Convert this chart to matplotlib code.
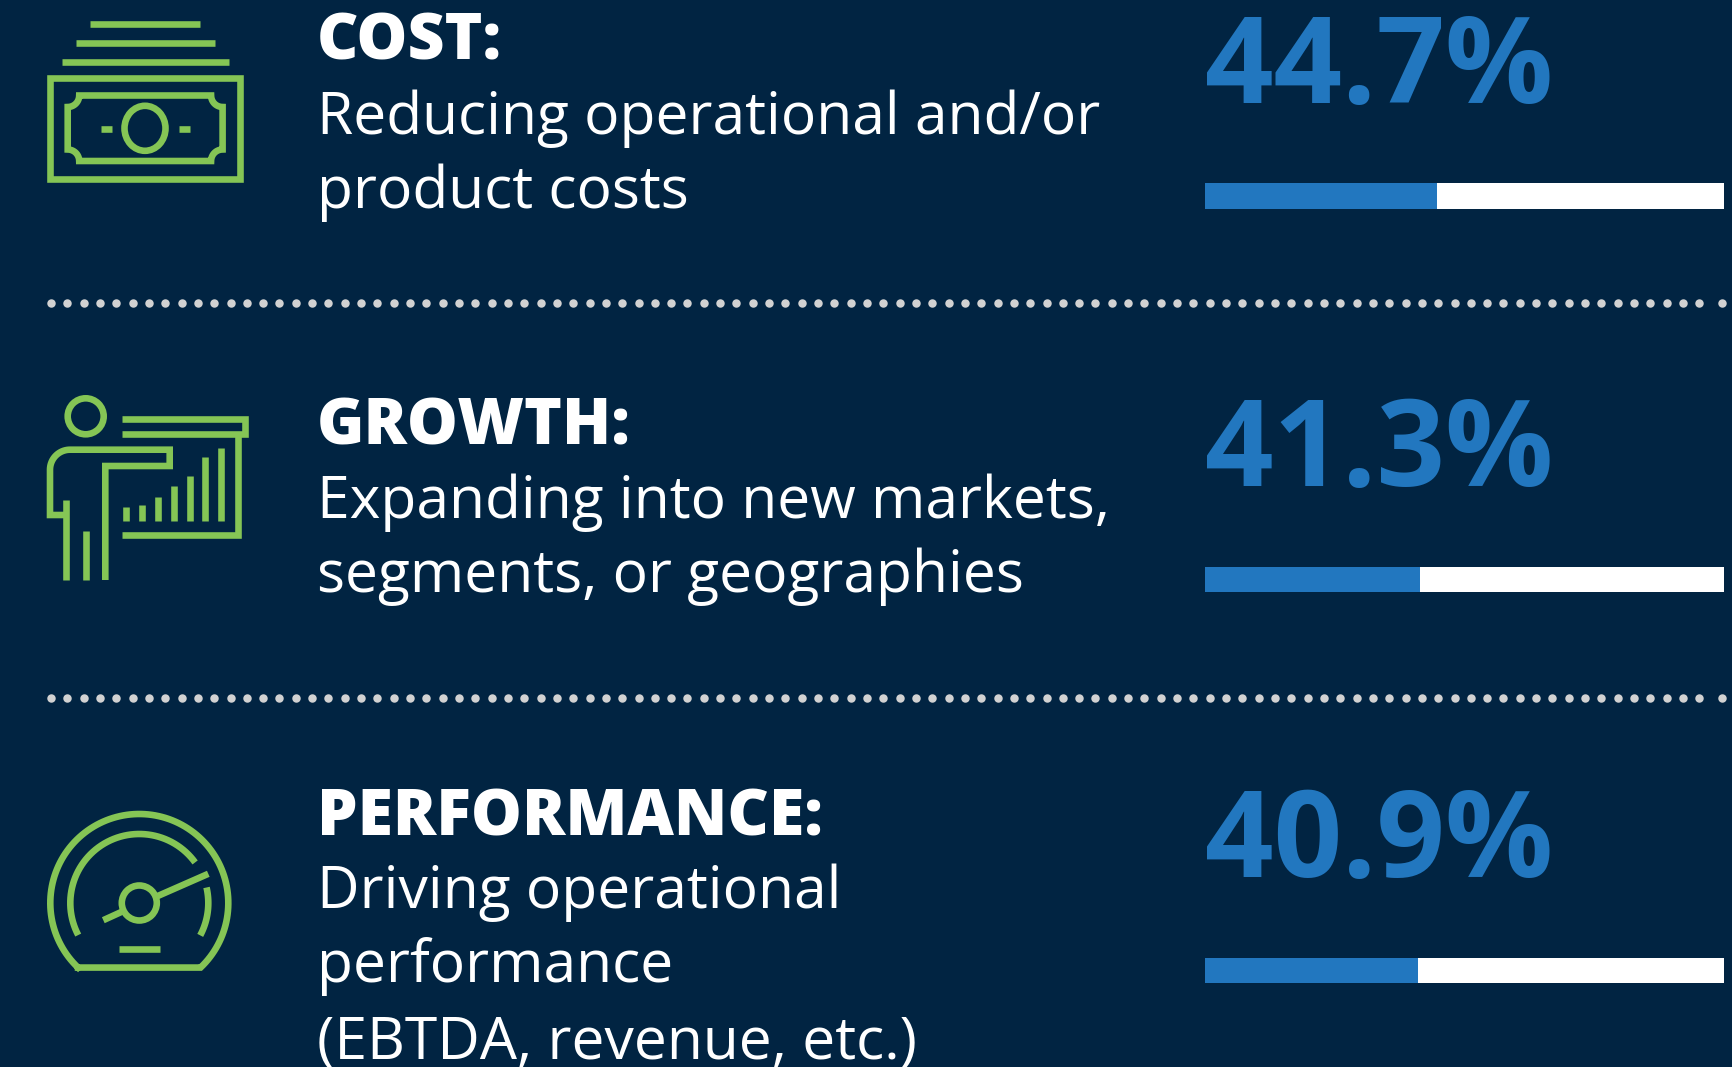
import matplotlib
matplotlib.use("Agg")
import matplotlib.pyplot as plt
import matplotlib.patches as patches
import numpy as np

# Data
headings = ["COST:", "GROWTH:", "PERFORMANCE:"]
descriptions = [
    ["Reducing operational and/or", "product costs"],
    ["Expanding into new markets,", "segments, or geographies"],
    ["Driving operational", "performance", "(EBTDA, revenue, etc.)"],
]
values = [44.7, 41.3, 40.9]

BG = "#012442"
GREEN = "#85C555"
BLUE = "#2277BF"
DOT = "#D2D2D2"
W, H = 1733, 1067
LW = 6.6 * 72 / 100  # icon stroke, px to pt

fig = plt.figure(figsize=(W / 100, H / 100), dpi=100, facecolor=BG)
ax = fig.add_axes([0, 0, 1, 1])
ax.set_xlim(0, W)
ax.set_ylim(H, 0)
ax.axis("off")


def stroke(xs, ys, cap="butt"):
    ax.plot(xs, ys, color=GREEN, lw=LW, solid_capstyle=cap, solid_joinstyle="miter")


def arc(cx, cy, r, a0, a1, n=60):
    # angles in degrees, y pointing up on screen
    t = np.radians(np.linspace(a0, a1, n))
    return cx + r * np.cos(t), cy - r * np.sin(t)


def ring(cx, cy, w, h):
    ax.add_patch(patches.Ellipse((cx, cy), w, h, fill=False, ec=GREEN, lw=LW))


def draw_money():
    stroke([90, 200], [24.3, 24.3])
    stroke([76, 215], [43, 43])
    stroke([62, 229], [61.7, 61.7])
    ax.add_patch(patches.Rectangle((50.3, 77.6), 190.2, 101.2, fill=False, ec=GREEN,
                                   lw=LW, joinstyle="miter"))
    # note with notched corners
    l, r, t, b, n = 67.7, 222.6, 95.5, 161, 11.5
    corners = [(r, t, 180, 270), (r, b, 90, 180), (l, b, 0, 90), (l, t, 270, 360)]
    pts = [arc(cx, cy, n, a0, a1, 20) for cx, cy, a0, a1 in corners]
    px = np.concatenate([p[0] for p in pts])
    py = np.concatenate([p[1] for p in pts])
    ax.add_patch(patches.Polygon(np.c_[px, py], closed=True, fill=False, ec=GREEN, lw=LW,
                                 joinstyle="miter"))
    ring(145, 128.3, 41, 45)
    stroke([101, 112], [128.5, 128.5])
    stroke([179, 190], [128.5, 128.5])


def draw_presenter():
    ring(85.7, 416.3, 36, 36)
    stroke([122, 245.4, 245.4, 122], [419, 419, 434.3, 434.3])
    stroke([237.7, 237.7, 122], [434.3, 535, 535])
    # arm and body
    cx, cy = arc(70, 469.7, 20, 180, 90, 20)
    stroke(np.r_[66.3, 50, cx, 169.7, 169.7, 105.3, 105.3],
           np.r_[515, 515, cy, 449.7, 466, 466, 580])
    stroke([66.3, 66.3], [500, 580])
    stroke([85.7, 85.7], [530.7, 580])
    tops = [410, 405, 382, 349, 318, 262, 234]
    for i, top in enumerate(tops):
        x = 126 + i * 15.9
        stroke([x, x], [521, 370 + top / 3])


def draw_gauge():
    c = (139.3, 903)
    x, y = arc(c[0], c[1], 89, 226.5, -46.5, 120)
    ax.plot(np.r_[x, x[0]], np.r_[y, y[0]], color=GREEN, lw=LW, solid_joinstyle="miter")
    x, y = arc(c[0], c[1], 69, 207.7, 36)
    stroke(x, y)
    x, y = arc(c[0], c[1], 69, 13, -28)
    stroke(x, y)
    ring(c[0], c[1], 35, 35)
    stroke([208.3, 157.3], [873.8, 896.2])
    stroke([121.7, 103.3], [911.8, 920.2])
    stroke([119.3, 160], [948.5, 948.5])


draw_money()
draw_presenter()
draw_gauge()

# dotted separators
for y in [303, 698]:
    xs = np.r_[np.arange(51, 1701, 16.32), 1722]
    ax.scatter(xs, np.full_like(xs, y), s=37, color=DOT, linewidths=0, zorder=2)

# text
FONT = "Open Sans"
head_base = [59.5, 444.5, 835.5]
line_base = [[133.5, 208.5], [517.5, 591.5], [907.5, 982.5, 1058.5]]
num_base = [103, 486, 877]
for i, name in enumerate(headings):
    ax.text(317, head_base[i], name, family=FONT, fontweight="extra bold", fontsize=46.2,
            color="white", va="baseline", ha="left")
    for txt, yb in zip(descriptions[i], line_base[i]):
        ax.text(317, yb, txt, family=FONT, fontsize=42.3, color="white", va="baseline", ha="left")
    ax.text(1205.5, num_base[i], f"{values[i]}%", family=FONT, fontweight="bold", fontsize=86.5,
            color=BLUE, va="baseline", ha="left")

# progress bars on their own 0-100 scale
bar_ax = fig.add_axes([1205.5 / W, 0, (1724.5 - 1205.5) / W, 1])
bar_ax.set_xlim(0, 100)
bar_ax.set_ylim(H, 0)
bar_ax.axis("off")
bar_y = [196, 579.5, 970.5]
bar_ax.barh(bar_y, [100] * 3, height=25.5, color="white", linewidth=0)
bar_ax.barh(bar_y, values, height=25.5, color=BLUE, linewidth=0)

fig.savefig("out.png", dpi=100, facecolor=BG)
